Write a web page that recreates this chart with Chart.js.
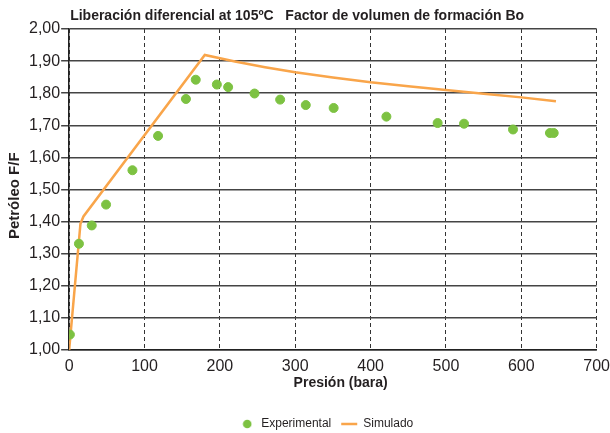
<!DOCTYPE html>
<html>
<head>
<meta charset="utf-8">
<script src="https://cdn.jsdelivr.net/npm/chart.js@4/dist/chart.umd.min.js"></script>
<style>
  html, body { margin: 0; padding: 0; background: #fff; }
  #wrap { width: 610px; height: 433px; }
</style>
</head>
<body>
<div id="wrap"><canvas id="chart"></canvas></div>
<script>
const titleText = "Liberación diferencial at 105ºC   Factor de volumen de formación Bo";

// experimental points
const expPressure = [1, 13, 30, 49, 84, 118, 155, 168, 196, 211, 246, 280, 314, 351, 421, 489, 524, 589, 638, 643];
const expBo = [1.048, 1.331, 1.388, 1.453, 1.560, 1.667, 1.782, 1.842, 1.827, 1.819, 1.799, 1.780, 1.763, 1.754, 1.727, 1.707, 1.705, 1.687, 1.676, 1.676];

// simulated curve
const simPressure = [0, 15, 19, 180, 220, 260, 300, 350, 400, 450, 500, 550, 600, 646];
const simBo = [1.000, 1.393, 1.416, 1.919, 1.899, 1.881, 1.865, 1.849, 1.834, 1.822, 1.810, 1.798, 1.787, 1.775];

const green = "#7dc242";
const orange = "#f9a54a";
const textCol = "#231f20";
const font = "'Liberation Sans', Arial, sans-serif";

// small green dot for the legend so the line sample can be wider
const dot = document.createElement("canvas");
dot.width = 10;
dot.height = 10;
const dctx = dot.getContext("2d");
dctx.fillStyle = green;
dctx.beginPath();
dctx.arc(5, 5, 4.3, 0, Math.PI * 2);
dctx.fill();

const titlePlugin = {
  id: "leftTitle",
  afterDraw(chart) {
    const ctx = chart.ctx;
    ctx.save();
    ctx.font = "bold 14px " + font;
    ctx.fillStyle = textCol;
    ctx.textBaseline = "middle";
    ctx.textAlign = "left";
    ctx.fillText(titleText, chart.chartArea.left + 1, 16);
    ctx.restore();
  }
};

new Chart(document.getElementById("chart"), {
  data: {
    datasets: [
      {
        type: "scatter",
        label: "Experimental",
        data: expPressure.map((p, i) => ({ x: p, y: expBo[i] })),
        backgroundColor: green,
        borderColor: green,
        pointRadius: 4.5,
        pointStyle: "circle",
        order: 1
      },
      {
        type: "line",
        label: "Simulado",
        data: simPressure.map((p, i) => ({ x: p, y: simBo[i] })),
        borderColor: orange,
        backgroundColor: orange,
        borderWidth: 2.5,
        pointRadius: 0,
        pointStyle: "line",
        tension: 0,
        fill: false,
        order: 2
      }
    ]
  },
  options: {
    responsive: true,
    maintainAspectRatio: false,
    animation: false,
    layout: { padding: { top: 29, right: 7, left: 2, bottom: -7 } },
    scales: {
      x: {
        type: "linear",
        min: 0,
        max: 700,
        ticks: {
          stepSize: 100,
          color: textCol,
          padding: 0,
          font: { family: font, size: 16, lineHeight: 1 }
        },
        grid: {
          color: "#333",
          lineWidth: 1,
          drawTicks: true,
          tickLength: 9,
          tickColor: "rgba(0,0,0,0)"
        },
        border: { display: true, color: "#222", width: 1.5, dash: [4, 3] },
        title: {
          display: true,
          text: "    Presión (bara)",
          color: textCol,
          padding: { top: 1, bottom: 18 },
          font: { family: font, size: 14, weight: "bold", lineHeight: 1 }
        }
      },
      y: {
        min: 1,
        max: 2,
        ticks: {
          stepSize: 0.1,
          color: textCol,
          padding: 1,
          font: { family: font, size: 16 },
          callback: (v) => v.toFixed(2).replace(".", ",")
        },
        grid: {
          color: "#444",
          lineWidth: 1.5,
          tickLength: 8
        },
        border: { display: true, color: "#222", width: 1.5 },
        title: {
          display: true,
          text: "Petróleo F/F   ",
          color: textCol,
          padding: 4,
          font: { family: font, size: 15, weight: "bold" }
        }
      }
    },
    plugins: {
      title: { display: false },
      tooltip: { enabled: false },
      legend: {
        position: "bottom",
        fullSize: false,
        labels: {
          usePointStyle: true,
          pointStyleWidth: 16,
          boxHeight: 6,
          color: textCol,
          padding: 10,
          font: { family: font, size: 12 },
          generateLabels(chart) {
            const items = Chart.defaults.plugins.legend.labels.generateLabels(chart);
            items.forEach((it) => {
              if (it.text === "Experimental") it.pointStyle = dot;
              if (it.text === "Simulado") it.text = "Simulado    ";
            });
            return items;
          }
        }
      }
    }
  },
  plugins: [titlePlugin]
});
</script>
</body>
</html>
